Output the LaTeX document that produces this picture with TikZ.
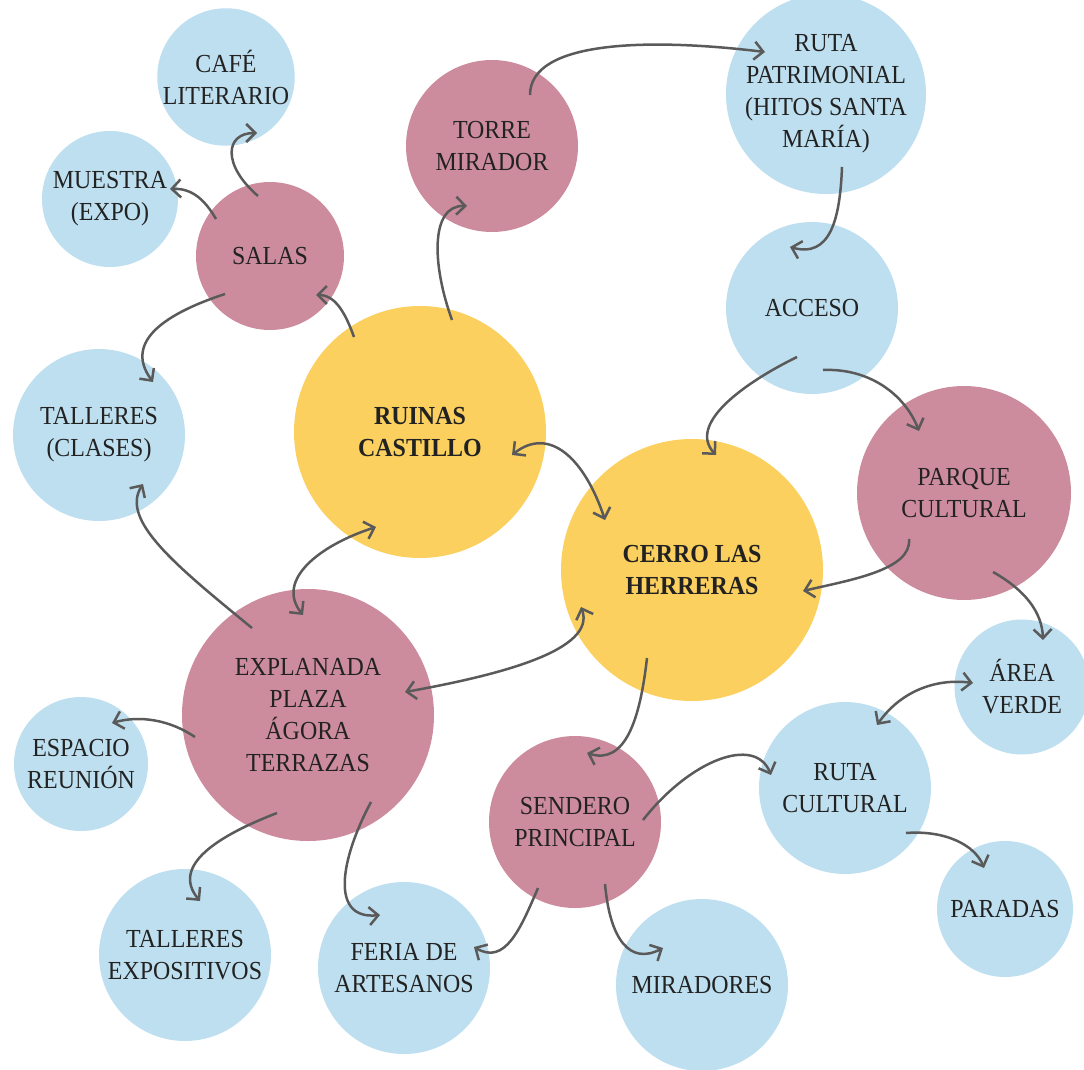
\documentclass[tikz,border=0pt]{standalone}
\usepackage{fontspec}
\setmainfont[FakeStretch=0.92]{Liberation Serif}
\usetikzlibrary{arrows.meta,calc}
\definecolor{cyellow}{HTML}{FBD05F}
\definecolor{cpink}{HTML}{CC8C9E}
\definecolor{cblue}{HTML}{BEDFEF}
\definecolor{cline}{HTML}{5A5A5A}
\definecolor{ctext}{HTML}{222222}
\tikzset{
  bubble/.style={circle,inner sep=0pt,align=center,text=ctext,
    font=\fontsize{26}{32}\selectfont},
  conn/.style={draw=cline,line width=2.5pt,-{Straight Barb[length=9pt,width=18pt]}},
  conntwo/.style={draw=cline,line width=2.5pt,{Straight Barb[length=9pt,width=18pt]}-{Straight Barb[length=9pt,width=18pt]}}
}
\begin{document}
\begin{tikzpicture}[x=1pt,y=-1pt]
        \useasboundingbox (0,0) rectangle (1084,1070);
        \begin{scope}[every node/.style={bubble,fill=cblue}]
        \node[minimum size=136pt] (cafe) at (226,77) {CAFÉ\\LITERARIO};
        \node[minimum size=136pt] (muestra) at (110,199) {MUESTRA\\(EXPO)};
        \node[minimum size=172pt] (rutap) at (826,94) {RUTA\\PATRIMONIAL\\(HITOS SANTA\\MARÍA)};
        \node[minimum size=172pt] (acceso) at (812,308) {ACCESO};
        \node[minimum size=172pt] (tallc) at (99,435) {TALLERES\\(CLASES)};
        \node[minimum size=135pt] (area) at (1022,687) {ÁREA\\VERDE};
        \node[minimum size=134pt] (espacio) at (81,764) {ESPACIO\\REUNIÓN};
        \node[minimum size=172pt] (rutac) at (845,788) {RUTA\\CULTURAL};
        \node[minimum size=136pt] (paradas) at (1005,909) {PARADAS};
        \node[minimum size=172pt] (tallexp) at (185,955) {TALLERES\\EXPOSITIVOS};
        \node[minimum size=172pt] (feria) at (404,968) {FERIA DE\\ARTESANOS};
        \node[minimum size=172pt] (miradores) at (702,985) {MIRADORES};
        \end{scope}
        \begin{scope}[every node/.style={bubble,fill=cpink}]
        \node[minimum size=148pt] (salas) at (270,256) {SALAS};
        \node[minimum size=172pt] (torre) at (492,146) {TORRE\\MIRADOR};
        \node[minimum size=214pt] (parque) at (964,493) {PARQUE\\CULTURAL};
        \node[minimum size=252pt] (explanada) at (308,715) {EXPLANADA\\PLAZA\\ÁGORA\\TERRAZAS};
        \node[minimum size=172pt] (sendero) at (575,822) {SENDERO\\PRINCIPAL};
        \end{scope}
        \begin{scope}[every node/.style={bubble,fill=cyellow,font=\fontsize{26}{32}\selectfont\bfseries}]
        \node[minimum size=252pt] (ruinas) at (420,432) {RUINAS\\CASTILLO};
        \node[minimum size=262pt] (cerro) at (692,570) {CERRO LAS\\HERRERAS};
        \end{scope}
        % arrows
        \draw[conn] ($(salas)+(-12,-60)$) .. controls (222,165) and (225,133) .. ($(cafe)+(31,56)$);
        \draw[conn] ($(salas)+(-54,-37)$) .. controls (205,200) and (192,188) .. ($(muestra)+(60,-10)$);
        \draw[conn] ($(salas)+(-45,38)$) .. controls (170,312) and (122,340) .. ($(tallc)+(54,-53)$);
        \draw[conn] ($(ruinas)+(-66,-95)$) .. controls (345,312) and (335,295) .. ($(salas)+(46,39)$);
        \draw[conn] ($(ruinas)+(32,-112)$) .. controls (432,265) and (430,205) .. ($(torre)+(-25,60)$);
        \draw[conn] ($(torre)+(38,-51)$) .. controls (530,40) and (650,38) .. ($(rutap)+(-61,-42)$);
        \draw[conn] ($(rutap)+(16,73)$) .. controls (840,220) and (830,258) .. ($(acceso)+(-22,-61)$);
        \draw[conn] ($(acceso)+(-15,49)$) .. controls (740,385) and (688,425) .. ($(cerro)+(24,-115)$);
        \draw[conn] ($(acceso)+(11,62)$) .. controls (870,368) and (905,395) .. ($(parque)+(-45,-62)$);
        \draw[conntwo] ($(ruinas)+(92,23)$) .. controls (550,425) and (585,460) .. ($(cerro)+(-87,-50)$);
        \draw[conn] ($(parque)+(-55,46)$) .. controls (912,570) and (850,580) .. ($(cerro)+(111,21)$);
        \draw[conn] ($(parque)+(29,79)$) .. controls (1025,590) and (1042,612) .. ($(area)+(21,-47)$);
        \draw[conntwo] ($(rutac)+(32,-63)$) .. controls (900,692) and (935,678) .. ($(area)+(-49,-4)$);
        \draw[conn] ($(rutac)+(61,45)$) .. controls (945,830) and (975,845) .. ($(paradas)+(-21,-41)$);
        \draw[conn] ($(sendero)+(68,-2)$) .. controls (690,760) and (755,735) .. ($(rutac)+(-74,-13)$);
        \draw[conn] ($(cerro)+(-45,88)$) .. controls (640,720) and (625,765) .. ($(sendero)+(12,-69)$);
        \draw[conn] ($(sendero)+(-37,66)$) .. controls (520,930) and (505,965) .. ($(feria)+(70,-21)$);
        \draw[conn] ($(sendero)+(30,62)$) .. controls (610,940) and (630,965) .. ($(miradores)+(-39,-37)$);
        \draw[conntwo] ($(ruinas)+(-44,95)$) .. controls (320,545) and (275,580) .. ($(explanada)+(-5,-100)$);
        \draw[conn] ($(explanada)+(-56,-87)$) .. controls (175,565) and (120,520) .. ($(tallc)+(44,49)$);
        \draw[conntwo] ($(explanada)+(97,-23)$) .. controls (500,675) and (597,650) .. ($(cerro)+(-111,37)$);
        \draw[conn] ($(explanada)+(-113,22)$) .. controls (170,720) and (140,715) .. ($(espacio)+(31,-41)$);
        \draw[conn] ($(explanada)+(-31,98)$) .. controls (220,835) and (170,865) .. ($(tallexp)+(15,-54)$);
        \draw[conn] ($(explanada)+(63,87)$) .. controls (340,860) and (330,920) .. ($(feria)+(-24,-53)$);
        \end{tikzpicture}
\end{document}
